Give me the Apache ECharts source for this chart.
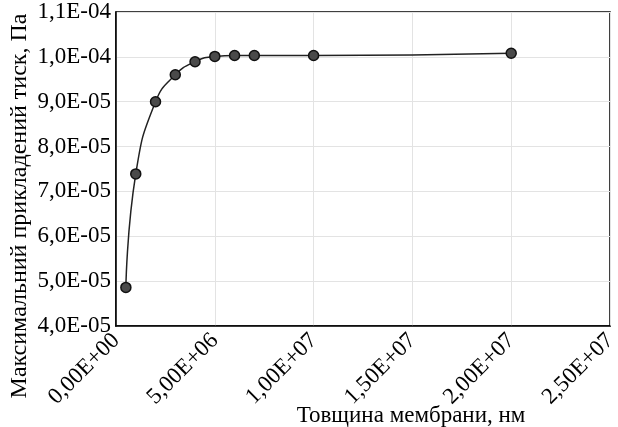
<!DOCTYPE html>
<html>
<head>
<meta charset="utf-8">
<script src="https://cdn.jsdelivr.net/npm/echarts@6/dist/echarts.min.js"></script>
<style>
  html, body { margin: 0; padding: 0; background: #fff; }
  #chart { width: 618px; height: 427px; }
</style>
</head>
<body>
<div id="chart"></div>
<script>
// thickness of membrane (nm) vs max applied pressure (Pa)
var thickness = [5e5, 1e6, 2e6, 3e6, 4e6, 5e6, 6e6, 7e6, 1e7, 2e7];
var pressure = [4.86e-5, 7.39e-5, 9.0e-5, 9.6e-5, 9.89e-5, 1.001e-4, 1.003e-4, 1.003e-4, 1.003e-4, 1.008e-4];

var xName = 'Товщина мембрани, нм';
var yName = 'Максимальний прикладений тиск, Па';

var points = thickness.map(function (t, i) { return [t, pressure[i]]; });

function sci(v, digits) {
    var s = v.toExponential(digits).replace('.', ',');
    var m = s.match(/^(-?[\d,]+)e([+-])(\d+)$/);
    var exp = m[3].length < 2 ? '0' + m[3] : m[3];
    return m[1] + 'E' + m[2] + exp;
}

var font = '"Liberation Serif", "DejaVu Serif", serif';

var chart = echarts.init(document.getElementById('chart'));
chart.setOption({
    animation: false,
    backgroundColor: '#fff',
    grid: {
        left: 116, right: 8, top: 12, bottom: 101,
        outerBoundsMode: 'none',
        containLabel: false,
        show: true, borderColor: '#000', borderWidth: 1.5
    },
    xAxis: {
        type: 'value',
        min: 0, max: 2.5e7, interval: 5e6,
        name: xName,
        nameLocation: 'middle',
        nameGap: 78,
        nameMoveOverlap: false,
        nameTextStyle: { fontFamily: font, fontSize: 23, color: '#000', padding: [0, 0, 0, 96] },
        axisLine: { show: true, lineStyle: { color: '#000', width: 1.5 } },
        axisTick: { show: false },
        splitLine: { show: true, lineStyle: { color: '#e3e3e3', width: 1 } },
        axisLabel: {
            rotate: 45, margin: 11,
            fontFamily: font, fontSize: 23, color: '#000',
            formatter: function (v) { return sci(v, 2); }
        }
    },
    yAxis: {
        type: 'value',
        min: 4e-5, max: 1.1e-4, interval: 1e-5,
        name: yName,
        nameLocation: 'middle',
        nameGap: 84,
        nameMoveOverlap: false,
        nameTextStyle: { fontFamily: font, fontSize: 24, color: '#000', padding: [0, 74, 0, 0] },
        axisLine: { show: true, lineStyle: { color: '#000', width: 1.5 } },
        axisTick: { show: false },
        splitLine: { show: true, lineStyle: { color: '#e3e3e3', width: 1 } },
        axisLabel: {
            margin: 5,
            fontFamily: font, fontSize: 23, color: '#000',
            formatter: function (v) { return sci(v, 1); }
        }
    },
    series: [{
        type: 'line',
        data: points,
        smooth: 0.5,
        symbol: 'circle',
        symbolSize: 10,
        lineStyle: { color: '#222', width: 1.5 },
        itemStyle: { color: '#4a4a4a', borderColor: '#111', borderWidth: 1.5 }
    }]
});
</script>
</body>
</html>
